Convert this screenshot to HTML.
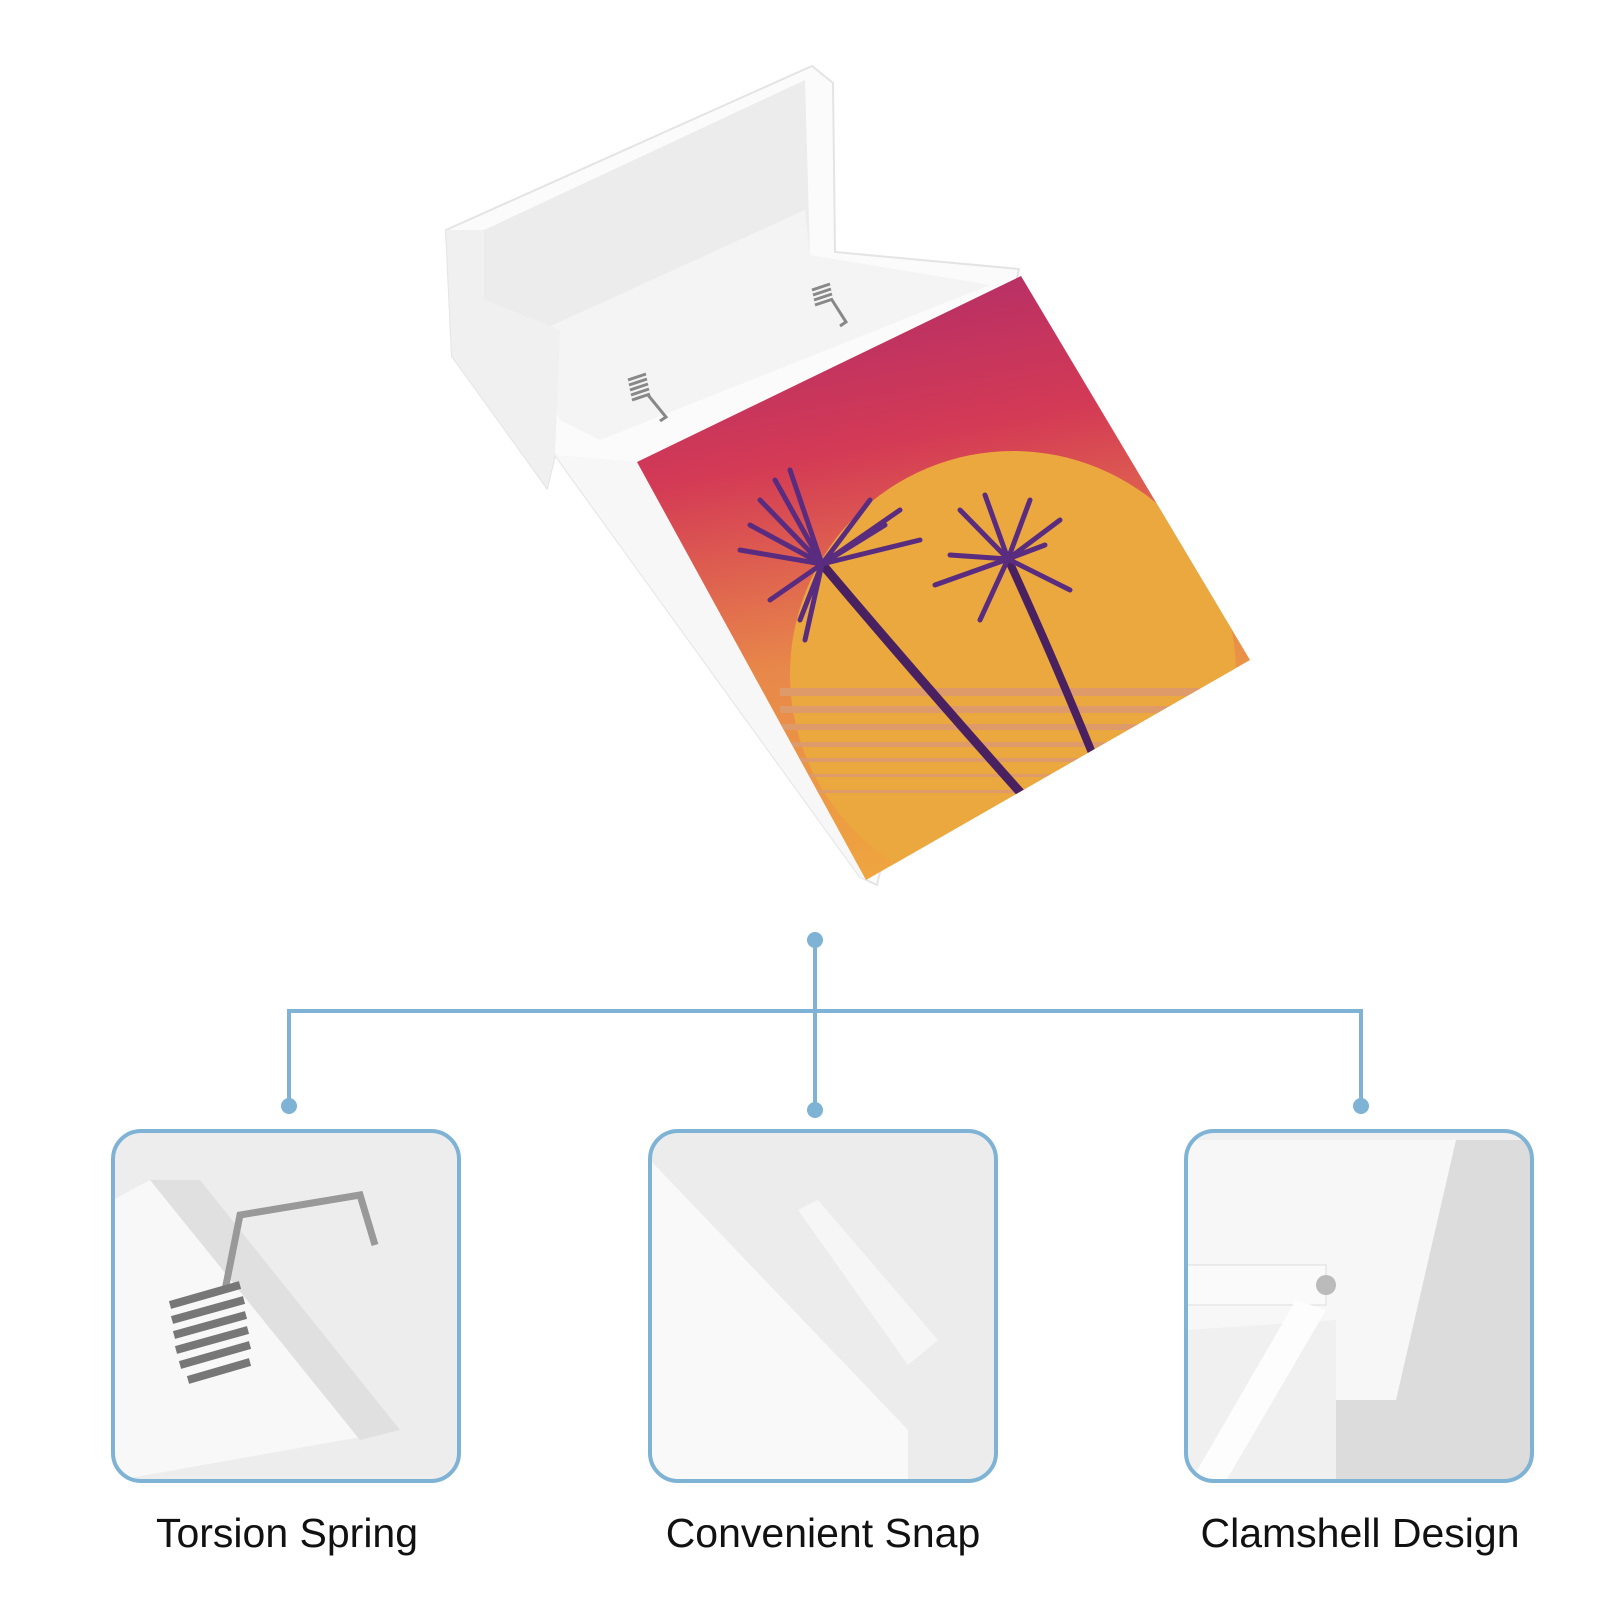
<!DOCTYPE html>
<html><head><meta charset="utf-8"><style>
html,body{margin:0;padding:0;background:#fff}
body{width:1600px;height:1600px;position:relative;overflow:hidden;font-family:"Liberation Sans",sans-serif}
.lbl{position:absolute;top:1510px;font-size:41px;color:#111;width:440px;text-align:center}
</style></head><body>
<svg width="1600" height="1600" viewBox="0 0 1600 1600" style="position:absolute;left:0;top:0">
<defs>
<linearGradient id="art" x1="0" y1="0" x2="0.2" y2="1">
<stop offset="0" stop-color="#a72a6e"/><stop offset="0.35" stop-color="#d43a55"/><stop offset="0.65" stop-color="#e8874a"/><stop offset="1" stop-color="#efa63f"/>
</linearGradient>
<clipPath id="ac"><polygon points="637,462 1021,276 1250,660 866,880"/></clipPath>
<clipPath id="p1"><rect x="113" y="1131" width="346" height="350" rx="28"/></clipPath>
<clipPath id="p2"><rect x="650" y="1131" width="346" height="350" rx="28"/></clipPath>
<clipPath id="p3"><rect x="1186" y="1131" width="346" height="350" rx="28"/></clipPath>
</defs>
<!-- box body -->
<polygon points="446,230 812,66 833,83 835,252 1019,269 877,885 860,877 555,455 547,488 452,356" fill="#fbfbfb" stroke="#e4e4e4" stroke-width="2"/>
<polygon points="484,230 805,80 810,255 560,420 560,330 484,300" fill="#ececec"/>
<polygon points="520,340 805,210 810,255 990,285 600,440 560,420" fill="#f4f4f4"/>
<polygon points="446,230 484,230 484,300 560,330 555,455 547,488 452,356" fill="#f0f0f0"/>
<polygon points="555,455 637,462 866,880 860,877" fill="#f7f7f7"/>
<!-- springs -->
<g fill="none" stroke="#888" stroke-width="3"><path d="M628,380 l18,-6 M629,385 l18,-6 M630,390 l18,-6 M631,395 l18,-6 M632,400 l18,-6"/><path d="M648,395 l18,22 l-6,4"/>
<path d="M812,290 l18,-6 M813,295 l18,-6 M814,300 l18,-6 M815,305 l18,-6"/><path d="M832,300 l14,22 l-6,4"/></g>
<!-- artwork -->
<g clip-path="url(#ac)">
<rect x="600" y="260" width="700" height="650" fill="url(#art)"/>
<circle cx="1013" cy="674" r="223" fill="#eaa83e"/>
<rect x="780" y="688" width="480" height="8" fill="#df9a6a"/>
<rect x="780" y="706" width="480" height="7" fill="#df9a6a"/>
<rect x="780" y="724" width="480" height="6" fill="#df9a6a"/>
<rect x="780" y="742" width="480" height="5" fill="#df9a6a"/>
<rect x="780" y="758" width="480" height="4" fill="#df9a6a"/>
<rect x="780" y="774" width="480" height="3" fill="#df9a6a"/>
<rect x="780" y="790" width="480" height="3" fill="#df9a6a"/>
<g stroke="#4a2160" stroke-linecap="round" fill="none">
<path d="M822,564 Q920,680 1027,800" stroke-width="9"/>
<path d="M1008,559 Q1050,650 1095,760" stroke-width="8"/>
<g stroke-width="5" stroke="#5a2c80">
<path d="M822,564 L790,470 M822,564 L760,500 M822,564 L740,550 M822,564 L900,510 M822,564 L920,540 M822,564 L800,620 M822,564 L870,500 M822,564 L770,600 M822,564 L775,480 M822,564 L750,525 M822,564 L885,525 M822,564 L805,640"/>
<path d="M1008,559 L985,495 M1008,559 L960,510 M1008,559 L935,585 M1008,559 L1060,520 M1008,559 L1070,590 M1008,559 L980,620 M1008,559 L1030,500 M1008,559 L1045,545 M1008,559 L950,555"/>
</g></g>
</g>
<!-- connectors -->
<g stroke="#7eb3d6" stroke-width="4" fill="#7eb3d6">
<line x1="815" y1="940" x2="815" y2="1108"/>
<polyline points="289,1108 289,1011 1361,1011 1361,1108" fill="none"/>
<circle cx="815" cy="940" r="8" stroke="none"/>
<circle cx="815" cy="1110" r="8" stroke="none"/>
<circle cx="289" cy="1106" r="8" stroke="none"/>
<circle cx="1361" cy="1106" r="8" stroke="none"/>
</g>
<!-- panels -->
<g clip-path="url(#p1)">
<rect x="113" y="1131" width="346" height="350" fill="#ededed"/>
<polygon points="113,1200 150,1180 400,1430 113,1481" fill="#f8f8f8"/>
<polygon points="150,1180 200,1180 400,1430 360,1440" fill="#e0e0e0"/>
<path d="M225,1290 L240,1215 L360,1195 L375,1245" fill="none" stroke="#999" stroke-width="7"/>
<g fill="none" stroke="#777" stroke-width="8"><path d="M170,1305 l70,-20 M172,1320 l72,-20 M174,1335 l72,-20 M176,1350 l72,-20 M180,1365 l70,-20 M188,1380 l62,-18"/></g>
</g>
<rect x="113" y="1131" width="346" height="350" rx="28" fill="none" stroke="#7eb3d6" stroke-width="4"/>
<g clip-path="url(#p2)">
<rect x="650" y="1131" width="346" height="350" fill="#ececec"/>
<polygon points="650,1160 908,1430 908,1481 650,1481" fill="#f9f9f9"/>
<polygon points="798,1210 818,1200 938,1340 908,1365" fill="#f6f6f6"/>
</g>
<rect x="650" y="1131" width="346" height="350" rx="28" fill="none" stroke="#7eb3d6" stroke-width="4"/>
<g clip-path="url(#p3)">
<rect x="1186" y="1131" width="346" height="350" fill="#f0f0f0"/>
<rect x="1336" y="1140" width="200" height="341" fill="#dcdcdc"/>
<polygon points="1186,1140 1456,1140 1396,1400 1336,1400 1336,1320 1186,1330" fill="#f7f7f7"/>
<rect x="1186" y="1265" width="140" height="40" fill="#fafafa" stroke="#ddd"/>
<circle cx="1326" cy="1285" r="10" fill="#bbb"/>
<polygon points="1296,1300 1326,1310 1226,1481 1191,1481" fill="#fdfdfd"/>
</g>
<rect x="1186" y="1131" width="346" height="350" rx="28" fill="none" stroke="#7eb3d6" stroke-width="4"/>
</svg>
<div class="lbl" style="left:67px">Torsion Spring</div>
<div class="lbl" style="left:603px">Convenient Snap</div>
<div class="lbl" style="left:1140px">Clamshell Design</div>
</body></html>
